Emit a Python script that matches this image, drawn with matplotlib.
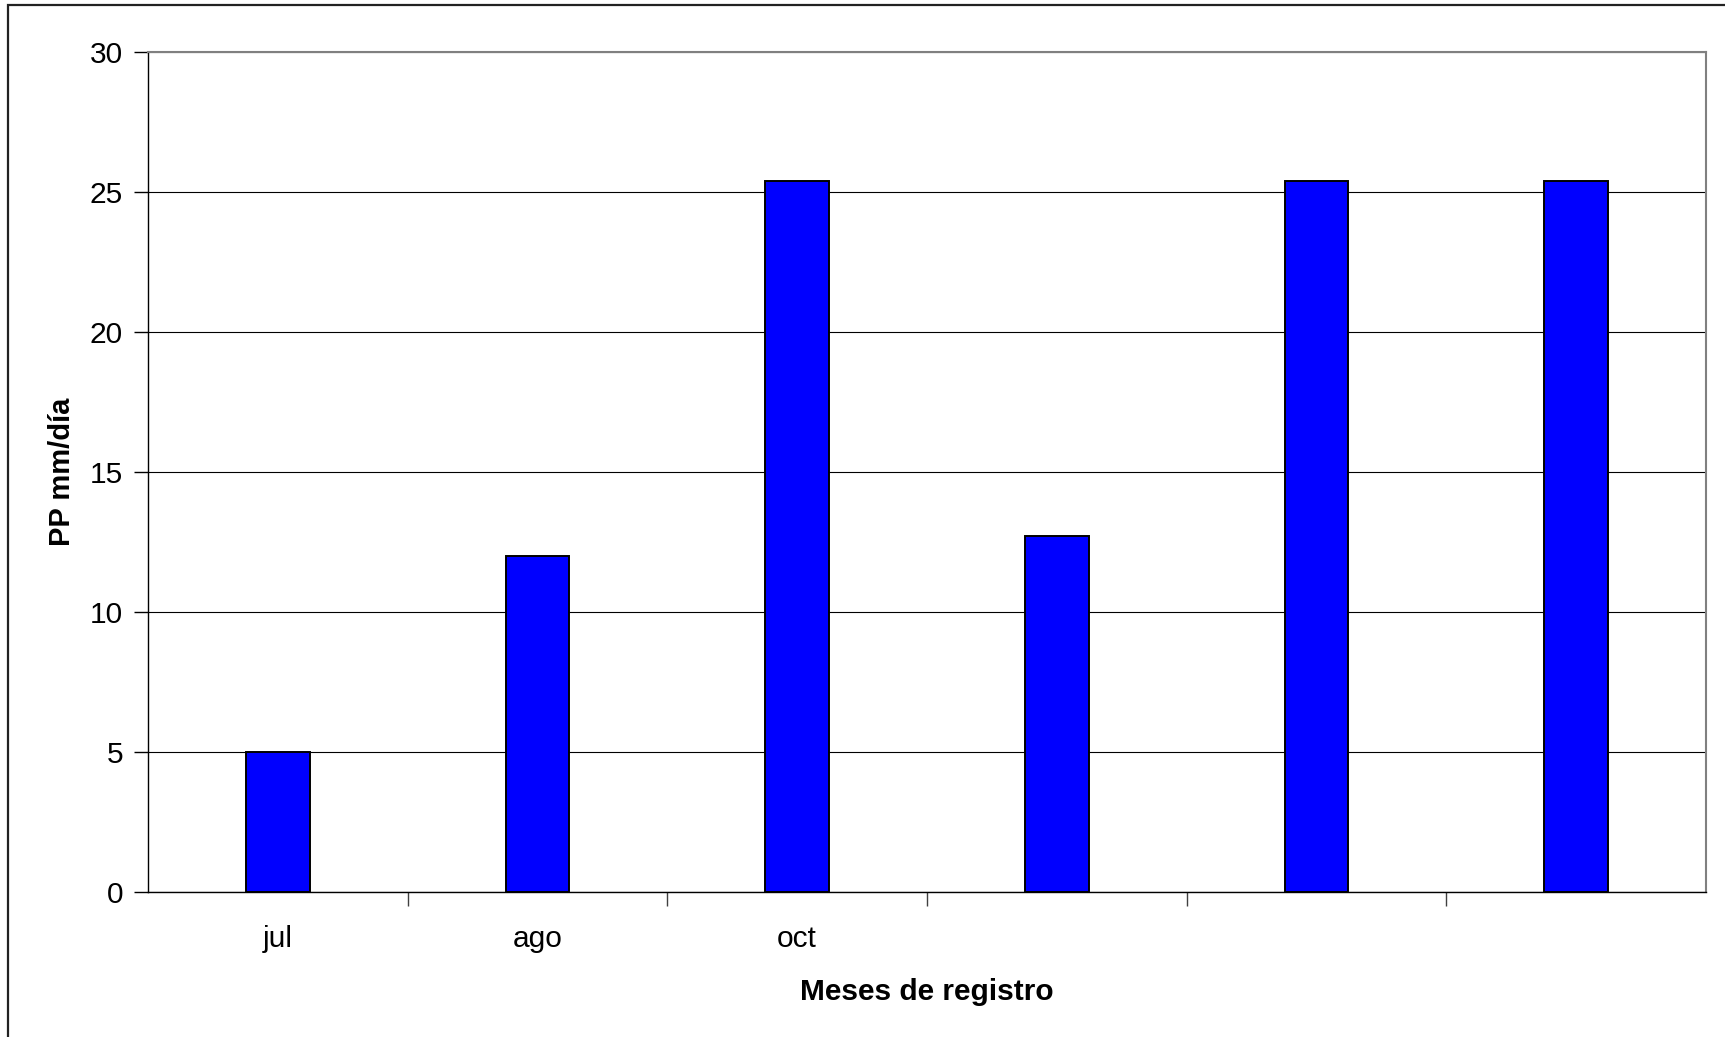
"""Precipitación diaria máxima por mes de registro."""

import matplotlib.pyplot as plt
from matplotlib.patches import Rectangle

plt.rcParams["font.family"] = ["Liberation Sans", "DejaVu Sans"]

months = ["jul", "ago", "oct", "", "", ""]
pp_mm_dia = [5, 12, 25.4, 12.7, 25.4, 25.4]
y_ticks = [0, 5, 10, 15, 20, 25, 30]

W, H = 1725, 1037
fig = plt.figure(figsize=(W / 100, H / 100), dpi=100)
ax = fig.add_axes([148 / W, 1 - 892 / H, (1706 - 148) / W, (892 - 52) / H])

x = list(range(len(pp_mm_dia)))
ax.bar(x, pp_mm_dia, width=0.245, color="#0000ff", edgecolor="black",
       linewidth=1.4, zorder=3)

ax.set_xlim(-0.5, len(pp_mm_dia) - 0.5)
ax.set_ylim(0, 30)
ax.set_yticks(y_ticks)
ax.yaxis.grid(True, color="black", linewidth=0.8, zorder=0)

# category labels centered, ticks on category boundaries
ax.set_xticks(x)
ax.set_xticklabels(months)
ax.set_xticks([i + 0.5 for i in x[:-1]], minor=True)
ax.tick_params(axis="x", which="major", length=0, pad=24, labelsize=21.5)
ax.tick_params(axis="x", which="minor", length=10, width=1, color="#404040")
ax.tick_params(axis="y", length=10, width=1, pad=8, labelsize=21.5)

for side in ("left", "bottom"):
    ax.spines[side].set_color("black")
    ax.spines[side].set_linewidth(1)
for side in ("top", "right"):
    ax.spines[side].set_color("#808080")
    ax.spines[side].set_linewidth(1.5)

ax.set_ylabel("PP mm/día", fontsize=21, fontweight="bold", labelpad=10)
ax.set_xlabel("Meses de registro", fontsize=21.5, fontweight="bold", labelpad=18)

# outer chart frame (cut off at right and bottom edges)
fig.patches.append(Rectangle((8 / W, -0.1), 1.2, 1 - 5 / H + 0.1,
                             transform=fig.transFigure, fill=False,
                             edgecolor="#222222", linewidth=1.6))

fig.savefig("out.png", dpi=100)
